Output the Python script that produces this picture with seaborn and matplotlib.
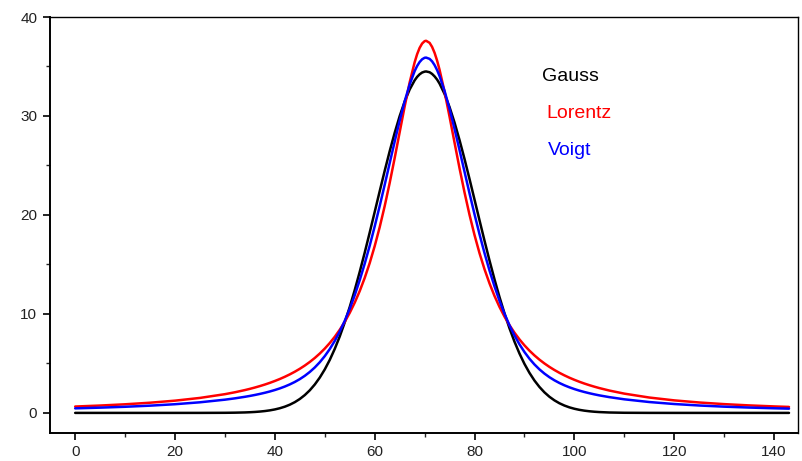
import matplotlib
matplotlib.use("Agg")
import matplotlib.pyplot as plt
import seaborn as sns
import pandas as pd
from matplotlib.ticker import MultipleLocator

x_vals = [0, 5, 10, 15, 20, 25, 30, 32, 34, 35,
          36, 37, 38, 39, 40, 41, 42, 43, 44, 45, 46, 47, 48, 49, 50, 51, 52,
          53, 54, 55, 56, 57, 58, 59, 60, 61, 62, 63, 64, 65, 66, 67, 68,
          68.5, 69, 69.5, 70, 70.3, 71, 71.5, 72, 72.5,
          73, 74, 75, 76, 77, 78, 79, 80, 81, 82, 83, 84, 85, 86, 87, 88, 89,
          90, 91, 92, 93, 94, 95, 96, 97, 98, 99, 100, 101, 102, 103, 104, 105,
          107, 110, 115, 120, 125, 130, 135, 140, 143]

gauss = [0, 0, 0, 0, 0, 0.001, 0.010, 0.023, 0.047, 0.068,
         0.096, 0.135, 0.187, 0.257, 0.350, 0.472, 0.629, 0.831, 1.086, 1.406,
         1.802, 2.285, 2.871, 3.570, 4.395, 5.357, 6.466,
         7.724, 9.143, 10.70, 12.41, 14.25, 16.19, 18.22, 20.30, 22.39, 24.45,
         26.43, 28.29, 29.98, 31.45, 32.67, 33.60,
         33.95, 34.21, 34.39, 34.48, 34.50, 34.42, 34.25, 34.00, 33.68,
         33.27, 32.22, 30.89, 29.33, 27.56, 25.65, 23.63, 21.55, 19.46, 17.40,
         15.40, 13.50, 11.71, 10.06, 8.556, 7.204, 6.006,
         4.954, 4.050, 3.275, 2.624, 2.080, 1.633, 1.270, 0.977, 0.745, 0.561,
         0.419, 0.310, 0.227, 0.165, 0.118, 0.084,
         0.041, 0.013, 0.002, 0, 0, 0, 0, 0, 0]

lorentz = [0.644, 0.744, 0.870, 1.030, 1.237, 1.514, 1.893, 2.085, 2.306, 2.430,
           2.564, 2.709, 2.866, 3.037, 3.225, 3.427, 3.650, 3.894, 4.162, 4.458,
           4.785, 5.147, 5.549, 5.998, 6.498, 7.060, 7.689,
           8.400, 9.202, 10.11, 11.14, 12.31, 13.64, 15.14, 16.85, 18.76, 20.89,
           23.23, 25.74, 28.35, 30.95, 33.38, 35.42,
           36.24, 36.88, 37.32, 37.56, 37.60, 37.39, 36.98, 36.38, 35.60,
           34.66, 32.44, 29.92, 27.30, 24.71, 22.27, 20.01, 17.97, 16.14, 14.52,
           13.09, 11.82, 10.71, 9.734, 8.870, 8.106, 7.429,
           6.827, 6.291, 5.812, 5.383, 4.998, 4.650, 4.336, 4.052, 3.794, 3.558,
           3.344, 3.147, 2.967, 2.802, 2.650, 2.509,
           2.259, 1.948, 1.553, 1.266, 1.052, 0.887, 0.758, 0.655, 0.603]

voigt = [0.459, 0.531, 0.619, 0.732, 0.878, 1.072, 1.337, 1.470, 1.627, 1.715,
         1.812, 1.918, 2.035, 2.165, 2.312, 2.477, 2.665, 2.880, 3.127, 3.414,
         3.748, 4.137, 4.591, 5.120, 5.737, 6.452, 7.276,
         8.223, 9.303, 10.52, 11.89, 13.41, 15.08, 16.89, 18.84, 20.90, 23.04,
         25.23, 27.41, 29.52, 31.47, 33.17, 34.53,
         35.05, 35.45, 35.73, 35.88, 35.90, 35.77, 35.52, 35.14, 34.64,
         34.03, 32.53, 30.71, 28.69, 26.55, 24.36, 22.18, 20.07, 18.05, 16.15,
         14.39, 12.79, 11.33, 10.02, 8.855, 7.829, 6.933,
         6.153, 5.479, 4.899, 4.401, 3.974, 3.609, 3.295, 3.024, 2.790, 2.587,
         2.409, 2.251, 2.112, 1.987, 1.874, 1.771,
         1.594, 1.374, 1.099, 0.898, 0.748, 0.631, 0.540, 0.467, 0.430]

series_names = ["Gauss", "Lorentz", "Voigt"]
series_colors = ["#000000", "#ff0000", "#0000ff"]
label_pos = [(93.6, 34.0), (94.4, 30.3), (94.8, 26.5)]

rows = []
for name, vals in zip(series_names, [gauss, lorentz, voigt]):
    for xv, yv in zip(x_vals, vals):
        rows.append({"x": xv, "y": yv, "series": name})
df = pd.DataFrame(rows)

sns.set_theme(style="ticks")
plt.rcParams["font.family"] = ["Liberation Sans", "DejaVu Sans"]

fig = plt.figure(figsize=(8.02, 4.61), dpi=100)
ax = fig.add_axes([0.062, 0.0614, 0.933, 0.9017])

sns.lineplot(data=df, x="x", y="y", hue="series", hue_order=series_names,
             palette=series_colors, linewidth=1.8, ax=ax, legend=False,
             sort=False, zorder=3)

for name, col, (tx, ty) in zip(series_names, series_colors, label_pos):
    ax.text(tx, ty, name, color=col, fontsize=14, va="center", ha="left")

ax.set_xlim(-5.1, 144.8)
ax.set_ylim(-2.0, 40)
ax.xaxis.set_major_locator(MultipleLocator(20))
ax.xaxis.set_minor_locator(MultipleLocator(10))
ax.yaxis.set_major_locator(MultipleLocator(10))
ax.yaxis.set_minor_locator(MultipleLocator(5))
ax.tick_params(axis="both", which="major", direction="out", length=5, width=1.2,
               labelsize=11, colors="#000000", labelcolor="#222222", pad=4,
               top=False, right=False)
ax.tick_params(axis="both", which="minor", direction="out", length=3, width=1.0,
               top=False, right=False)
for s in ["left", "bottom"]:
    ax.spines[s].set_linewidth(1.4)
    ax.spines[s].set_color("#000000")
for s in ["top", "right"]:
    ax.spines[s].set_visible(True)
    ax.spines[s].set_linewidth(1.0)
    ax.spines[s].set_color("#000000")
ax.set_xlabel("")
ax.set_ylabel("")

fig.savefig("out.png", dpi=100)
